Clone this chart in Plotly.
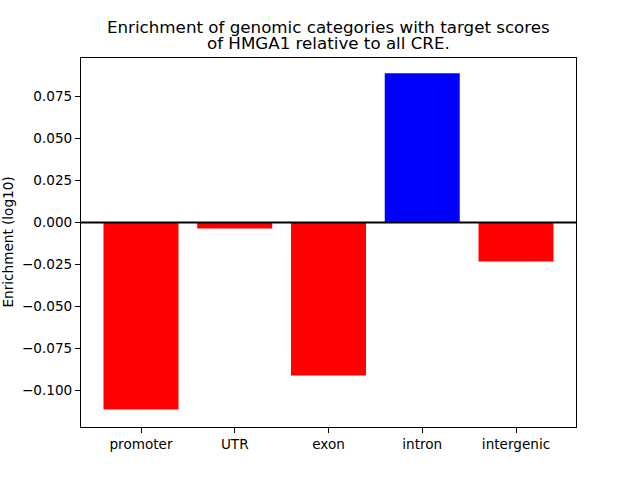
import plotly.graph_objects as go

categories = ["promoter", "UTR", "exon", "intron", "intergenic"]
values = [-0.1112, -0.0036, -0.0910, 0.0888, -0.0232]
colors = ["blue" if v > 0 else "red" for v in values]
yticks = [0.075, 0.050, 0.025, 0.000, -0.025, -0.050, -0.075, -0.100]
yticklabels = ["0.075", "0.050", "0.025", "0.000", "\u22120.025", "\u22120.050", "\u22120.075", "\u22120.100"]
title_lines = ["Enrichment of genomic categories with target scores", "of HMGA1 relative to all CRE."]

fig = go.Figure(go.Bar(
    x=list(range(len(categories))), y=values, width=0.8,
    marker=dict(color=colors, line=dict(width=0)),
))

title_text = "<br>".join('<span style="font-size:16.7px">%s</span>' % s for s in title_lines)

font = dict(family="DejaVu Sans", size=13.6, color="black")
fig.update_layout(
    width=640, height=480,
    margin=dict(l=81, r=64, t=58, b=53, autoexpand=False),
    paper_bgcolor="white", plot_bgcolor="white",
    font=font, showlegend=False,
    xaxis=dict(
        range=[-0.64, 4.64], tickmode="array",
        tickvals=list(range(len(categories))), ticktext=categories,
        showline=True, mirror=True, linecolor="black", linewidth=1,
        ticks="outside", ticklen=5, tickcolor="black", showgrid=False, zeroline=False,
    ),
    yaxis=dict(
        range=[-0.1216, 0.0978], tickmode="array",
        tickvals=yticks, ticktext=yticklabels,
        showline=True, mirror=True, linecolor="black", linewidth=1,
        ticks="outside", ticklen=5, tickcolor="black", showgrid=False, zeroline=False,
    ),
    shapes=[dict(type="line", xref="paper", yref="y", x0=0, x1=1, y0=0, y1=0,
                 line=dict(color="black", width=2))],
    annotations=[
        dict(text=title_text, xref="paper", yref="paper", x=0.5, y=1, yshift=23,
             xanchor="center", yanchor="middle", align="center", showarrow=False,
             font=dict(family="DejaVu Sans", size=12, color="black")),
        dict(text="Enrichment (log10)", xref="paper", yref="paper", x=0, xshift=-74, y=0.5,
             xanchor="center", yanchor="middle", textangle=-90, showarrow=False,
             font=dict(family="DejaVu Sans", size=13.6, color="black")),
    ],
)

fig.write_html("out.html", config={"displayModeBar": False},
               post_script="document.body.style.margin='0';document.body.style.overflow='hidden';")
